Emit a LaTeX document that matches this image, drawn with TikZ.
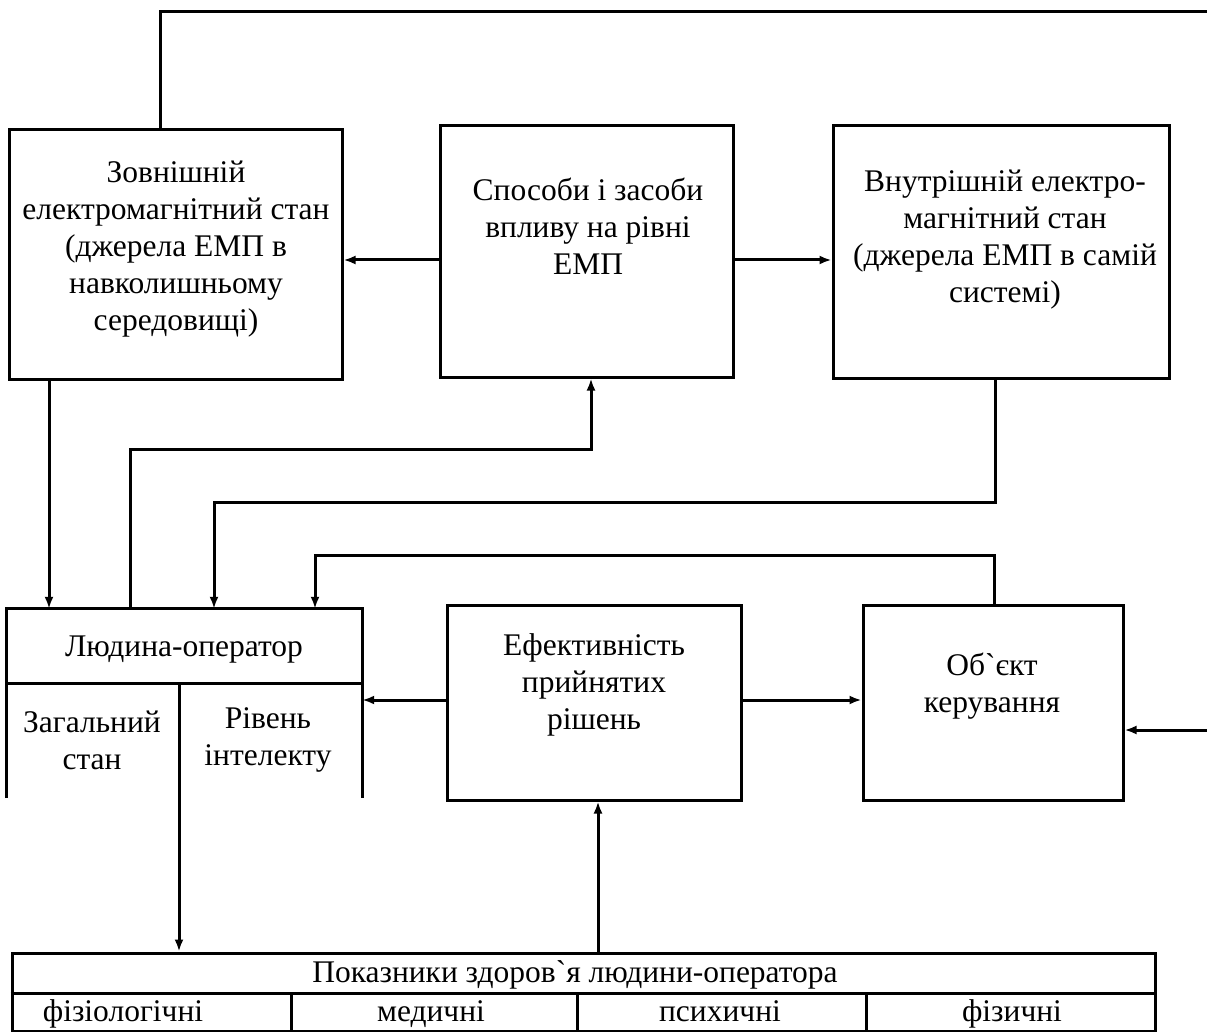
\documentclass[tikz,border=0pt]{standalone}
\usepackage{fontspec}
\setmainfont{Liberation Serif}
\usetikzlibrary{arrows.meta,calc}
\begin{document}
\begin{tikzpicture}[x={(1pt,0)},y={(0,-1pt)},
  box/.style={draw,line width=3pt,inner sep=0pt},
  frame/.style={inner sep=0pt},
  txt/.style={align=center,inner sep=0pt,font=\fontsize{31.5}{37}\selectfont},
  celltxt/.style={txt,anchor=base},
  ln/.style={line width=3pt},
  arr/.style={line width=3pt,-{Latex[length=12pt,width=9pt]}}]
\useasboundingbox (0,0) rectangle (1207,1032);
% boxes
\node[box,minimum width=333pt,minimum height=249pt] (A) at (175.5,254.5) {};
\node[txt] (At) at (176,249) {Зовнішній\\електромагнітний стан\\(джерела ЕМП в\\навколишньому\\середовищі)};
\node[box,minimum width=293pt,minimum height=251pt] (B) at (586.5,251.5) {};
\node[txt] (Bt) at (588,226) {Способи і засоби\\впливу на рівні\\ЕМП};
\node[box,minimum width=336pt,minimum height=252pt] (C) at (1001,252) {};
\node[txt] (Ct) at (1005,240) {Внутрішній електро-\\магнітний стан\\(джерела ЕМП в самій\\системі)};
\node[frame,minimum width=355pt,minimum height=189pt] (L) at (184.5,703.5) {};
\draw[ln,line join=miter] (L.south west) -- (L.north west) -- (L.north east) -- (L.south east);
\coordinate (Ldiv) at (0,683);
\draw[ln] (L.west |- Ldiv) -- (L.east |- Ldiv);
\node[txt] (Lt) at (184,650) {Людина-оператор};
\node[txt] (L1) at (92,740) {Загальний\\стан};
\node[txt] (L2) at (268,740) {Рівень\\інтелекту};
\node[box,minimum width=294pt,minimum height=195pt] (E) at (594,702.5) {};
\node[txt] (Et) at (594,685) {Ефективність\\прийнятих\\рішень};
\node[box,minimum width=260pt,minimum height=195pt] (D) at (993,702.5) {};
\node[txt] (Dt) at (992,686) {Об\textasciigrave єкт\\керування};
\node[box,minimum width=1143pt,minimum height=78pt] (T) at (583.5,992) {};
\coordinate (Trow) at (0,993);
\draw[ln] (T.west |- Trow) -- (T.east |- Trow);
\foreach \xx in {291,577,866} \draw[ln] (\xx,993) -- (\xx,1032);
\node[celltxt] (Tt) at (575,982) {Показники здоров\textasciigrave я людини-оператора};
\node[celltxt] (T1) at (123,1021) {фізіологічні};
\node[celltxt] (T2) at (431,1021) {медичні};
\node[celltxt] (T3) at (720,1021) {психичні};
\node[celltxt] (T4) at (1012,1021) {фізичні};
% connectors
\coordinate (top1) at (160,12);
\coordinate (topR) at (1207,12);
\draw[ln] (A.north -| top1) -- (top1) -- (topR);
\coordinate (h1) at (0,260);
\draw[arr] (B.west |- h1) -- (A.east |- h1);
\draw[arr] (B.east |- h1) -- (C.west |- h1);
\coordinate (v1) at (49,0);
\draw[arr] (A.south -| v1) -- (L.north -| v1);
\coordinate (p1) at (130,449);
\coordinate (p2) at (591,449);
\draw[arr] (L.north -| p1) -- (p1) -- (p2) -- (B.south -| p2);
\coordinate (q1) at (995,502);
\coordinate (q2) at (214,502);
\draw[arr] (C.south -| q1) -- (q1) -- (q2) -- (L.north -| q2);
\coordinate (r1) at (994,555);
\coordinate (r2) at (315,555);
\draw[arr] (D.north -| r1) -- (r1) -- (r2) -- (L.north -| r2);
\coordinate (h2) at (0,700);
\draw[arr] (E.west |- h2) -- (L.east |- h2);
\draw[arr] (E.east |- h2) -- (D.west |- h2);
\coordinate (inR) at (1207,730);
\draw[arr] (inR) -- (D.east |- inR);
\coordinate (s1) at (179,683);
\draw[arr] (s1) -- (T.north -| s1);
\coordinate (u1) at (598,0);
\draw[arr] (T.north -| u1) -- (E.south -| u1);
\end{tikzpicture}
\end{document}
